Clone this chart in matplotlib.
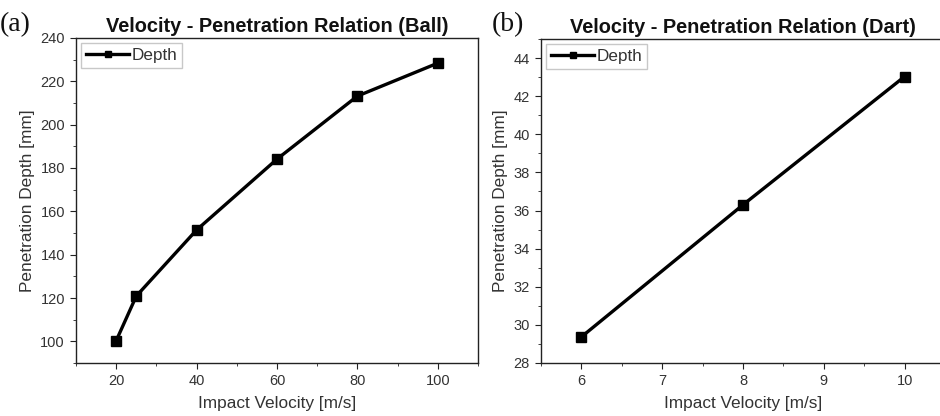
import matplotlib
matplotlib.use("Agg")
import matplotlib.pyplot as plt
from matplotlib.ticker import MultipleLocator

# data
ball_speed = [20, 25, 40, 60, 80, 100]
ball_depth = [100.3, 120.9, 151.4, 184.1, 213.2, 228.4]
dart_speed = [6, 8, 10]
dart_depth = [29.37, 36.3, 43.03]

plt.rcParams['font.family'] = ['Liberation Sans', 'DejaVu Sans']
txt = '#333333'

fig = plt.figure(figsize=(9.4, 4.16), dpi=100)
ax1 = fig.add_axes([76/940, 53/416, 402/940, 325/416])
ax2 = fig.add_axes([541/940, 53/416, 404/940, 324/416])

def style(ax, title):
    for s in ax.spines.values():
        s.set_linewidth(1.0)
        s.set_color('#222222')
    ax.tick_params(which='both', direction='out', top=False, right=False,
                   labelsize=10.5, colors='#222222', labelcolor=txt)
    ax.tick_params(which='major', length=4.5)
    ax.tick_params(which='minor', length=2.5)
    ax.set_title(title, fontsize=14.4, fontweight='bold', pad=4, color='#111111')
    ax.set_xlabel('Impact Velocity [m/s]', fontsize=12.4, color=txt, labelpad=6)
    ax.set_ylabel('Penetration Depth [mm]', fontsize=12.4, color=txt, labelpad=4)
    ax.legend(loc='upper left', fontsize=12.3, frameon=True, fancybox=False,
              edgecolor='#bbbbbb', borderpad=0.3, handlelength=2.5,
              handletextpad=0.15, borderaxespad=0.3, labelcolor=txt,
              markerscale=0.7)

ax1.plot(ball_speed, ball_depth, color='black', lw=2.4, marker='s', ms=6.5, label='Depth')
ax1.set_xlim(10, 110)
ax1.set_ylim(90, 240)
ax1.xaxis.set_major_locator(MultipleLocator(20))
ax1.xaxis.set_minor_locator(MultipleLocator(10))
ax1.yaxis.set_major_locator(MultipleLocator(20))
ax1.yaxis.set_minor_locator(MultipleLocator(10))
style(ax1, 'Velocity - Penetration Relation (Ball)')

ax2.plot(dart_speed, dart_depth, color='black', lw=2.4, marker='s', ms=6.5, label='Depth')
ax2.set_xlim(5.5, 10.5)
ax2.set_ylim(28, 45)
ax2.xaxis.set_major_locator(MultipleLocator(1))
ax2.xaxis.set_minor_locator(MultipleLocator(0.5))
ax2.yaxis.set_major_locator(MultipleLocator(2))
ax2.yaxis.set_minor_locator(MultipleLocator(1))
style(ax2, 'Velocity - Penetration Relation (Dart)')

fig.text(0, 1 - 31/416, '(a)', family='Liberation Serif', fontsize=20, color='#111111')
fig.text(492/940, 1 - 31/416, '(b)', family='Liberation Serif', fontsize=20, color='#111111')

fig.savefig('out.png', dpi=100)
